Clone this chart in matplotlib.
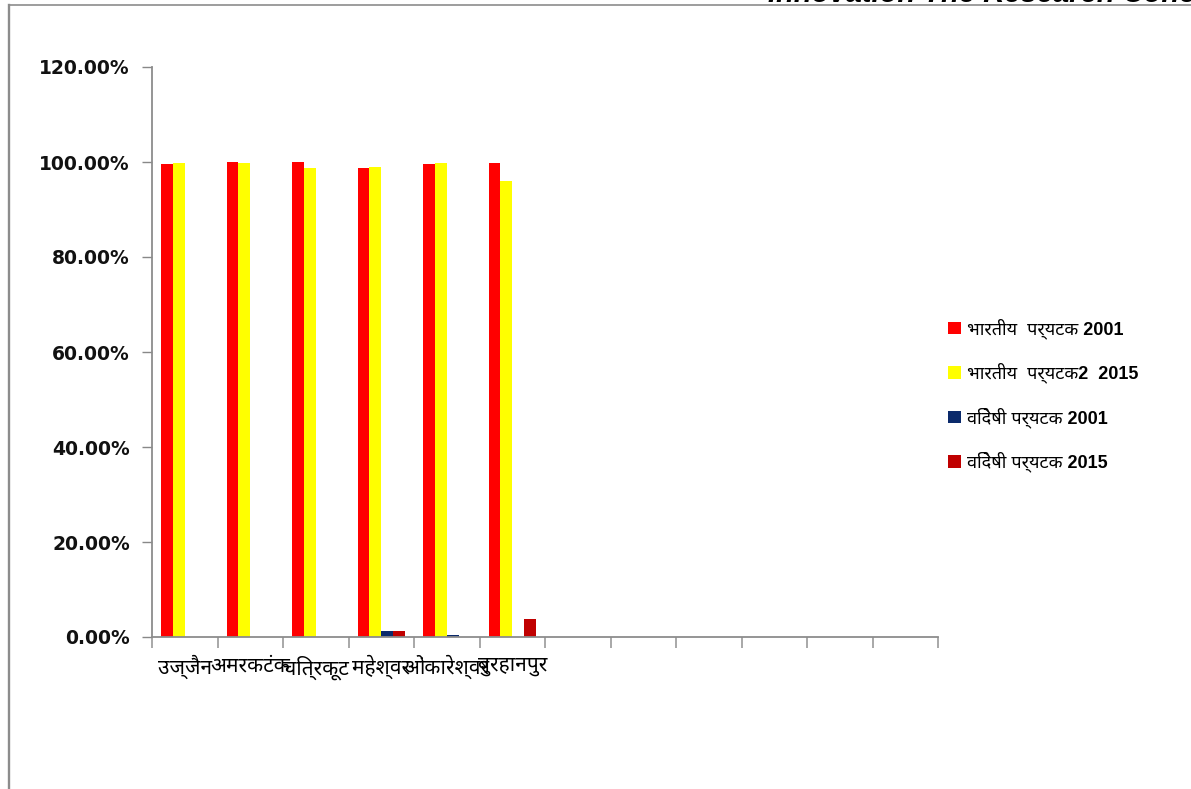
import matplotlib.pyplot as plt
import numpy as np
from matplotlib.lines import Line2D

# पर्यटक प्रतिशत - स्थान अनुसार
स्थान = ['उज्जैन', 'अमरकटंक', 'चित्रकूट', 'महेश्वर', 'ओंकारेश्वर', 'बुरहानपुर',
         '', '', '', '', '', '']
भारतीय_2001 = [99.5, 100.0, 100.0, 98.7, 99.5, 99.7]
भारतीय_2015 = [99.7, 99.7, 98.7, 98.9, 99.7, 96.0]
विदेशी_2001 = [0.0, 0.0, 0.0, 1.3, 0.35, 0.0]
विदेशी_2015 = [0.0, 0.0, 0.0, 1.2, 0.0, 3.8]

श्रृंखला = ['भारतीय  पर्यटक 2001', 'भारतीय  पर्यटक2  2015',
            'विदेषी पर्यटक 2001', 'विदेषी पर्यटक 2015']
रंग = ['#ff0000', '#ffff00', '#0b2a6b', '#c00000']

हिंदी_फ़ॉन्ट = ['Noto Sans Devanagari', 'DejaVu Sans']
लेजेंड_फ़ॉन्ट = ['Liberation Sans', 'Noto Sans Devanagari', 'DejaVu Sans']

fig = plt.figure(figsize=(11.91, 7.89), dpi=100)
ax = fig.add_axes([152/1191, 1 - 637/789, 786/1191, 570/789])

x = np.arange(len(स्थान))
चौड़ाई = 0.18
मान = [भारतीय_2001, भारतीय_2015, विदेशी_2001, विदेशी_2015]
for k, (v, c, नाम) in enumerate(zip(मान, रंग, श्रृंखला)):
    ax.bar(x[:len(v)] + (k - 1.5) * चौड़ाई, v, चौड़ाई, color=c, label=नाम)

ax.set_xlim(-0.5, len(स्थान) - 0.5)
ax.set_ylim(0, 120)
ax.set_yticks(np.arange(0, 121, 20))
ax.set_yticklabels([f'{t:.2f}%' for t in np.arange(0, 121, 20)],
                   fontsize=13.5, fontweight='bold', color='#111111')
ax.tick_params(axis='y', length=7, width=1, color='#888888', pad=9)

ax.set_xticks(x)
ax.set_xticklabels(स्थान, fontsize=15, family=हिंदी_फ़ॉन्ट)
ax.tick_params(axis='x', which='major', length=0, pad=13)
ax.set_xticks(np.arange(0, len(स्थान) + 1) - 0.5, minor=True)
ax.tick_params(axis='x', which='minor', length=8, width=1.2, color='#999999')

for s in ['top', 'right']:
    ax.spines[s].set_visible(False)
for s in ['left', 'bottom']:
    ax.spines[s].set_color('#8c8c8c')
    ax.spines[s].set_linewidth(1.3)

fig.legend(loc='upper left', bbox_to_anchor=(932/1191, 1 - 302/789),
           frameon=False, handlelength=0.7, handleheight=0.7,
           handletextpad=0.35, labelspacing=1.32,
           prop={'family': लेजेंड_फ़ॉन्ट, 'size': 13, 'weight': 'bold'})

# ऊपर का कटा हुआ शीर्षक और चौखट
fig.text(768/1191, 1 - 2.5/789, 'Innovation The Research Concept', fontsize=21,
         fontweight='bold', style='italic', family='Liberation Sans',
         va='baseline', ha='left')
fig.add_artist(Line2D([8.5/1191, 1], [1 - 5.4/789, 1 - 5.4/789], color='#8c8c8c',
                      lw=1.2, transform=fig.transFigure))
fig.add_artist(Line2D([8.5/1191, 8.5/1191], [0, 1 - 5.4/789], color='#8c8c8c',
                      lw=1.7, transform=fig.transFigure))

fig.savefig('out.png', dpi=100)
